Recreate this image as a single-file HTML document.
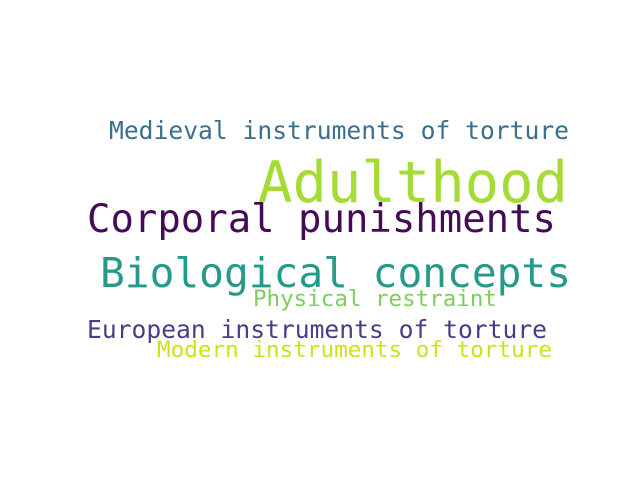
<!DOCTYPE html>
<html><head><meta charset="utf-8"><style>
html,body{margin:0;padding:0;background:#fff;}
svg{display:block;}
text{font-family:"DejaVu Sans Mono","Liberation Mono",monospace;}
</style></head>
<body>
<svg width="640" height="480" viewBox="0 0 640 480">
<rect width="640" height="480" fill="#fff"/>
<text x="109" y="139" font-size="24.6" fill="#3b6f8f" textLength="460" lengthAdjust="spacingAndGlyphs">Medieval instruments of torture</text>
<text x="258" y="202" font-size="57" fill="#a5db36" textLength="310" lengthAdjust="spacingAndGlyphs">Adulthood</text>
<text x="87" y="232" font-size="39" fill="#450b56" textLength="469" lengthAdjust="spacingAndGlyphs">Corporal punishments</text>
<text x="100" y="287" font-size="41" fill="#26998a" textLength="471" lengthAdjust="spacingAndGlyphs">Biological concepts</text>
<text x="253" y="306" font-size="22.5" fill="#7ccf5a" textLength="244" lengthAdjust="spacingAndGlyphs">Physical restraint</text>
<text x="87" y="338" font-size="24.6" fill="#463f85" textLength="460" lengthAdjust="spacingAndGlyphs">European instruments of torture</text>
<text x="157" y="357" font-size="22.6" fill="#cfe11e" textLength="395" lengthAdjust="spacingAndGlyphs">Modern instruments of torture</text>
</svg>
</body></html>
